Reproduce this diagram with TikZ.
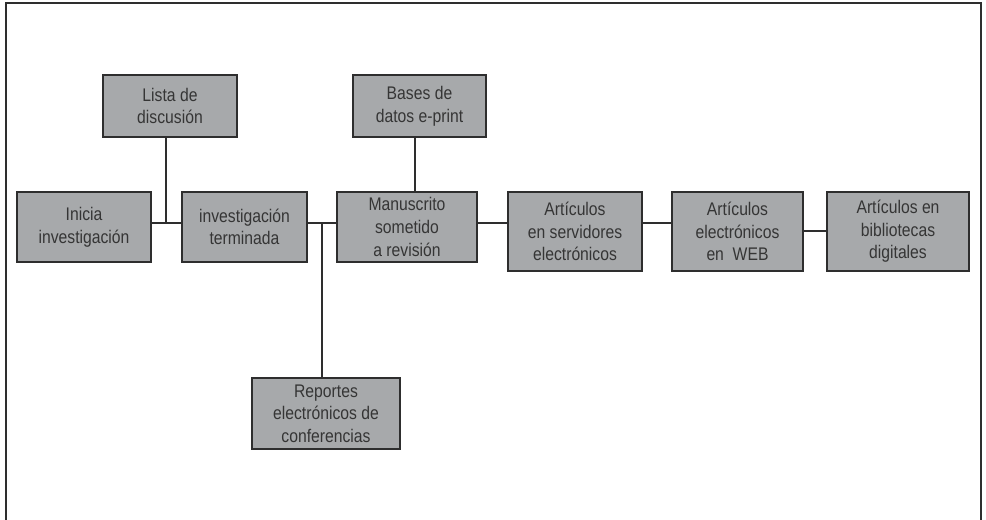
\documentclass[tikz,border=0pt]{standalone}
\usepackage{fontspec}
\setmainfont{Liberation Sans}[FakeStretch=0.86]
\definecolor{cajagris}{HTML}{A7A9AB}
\definecolor{bordegris}{HTML}{2E2E2E}
\definecolor{textogris}{HTML}{353535}
\tikzset{
  caja/.style={draw=bordegris,fill=cajagris,line width=0.7pt,align=center,inner sep=0pt,
    text=textogris,font=\fontsize{10.4}{12.9}\selectfont},
  linea/.style={draw=bordegris,line width=0.7pt}
}
\begin{document}
\begin{tikzpicture}[x=0.02cm,y=-0.02cm]
  \useasboundingbox (0,0) rectangle (986,520);
  \draw[bordegris,line width=0.9pt] (6,530) -- (6,3) -- (981,3) -- (981,530);
  % fila principal
  \node[caja,minimum width=2.68cm,minimum height=1.40cm] (inicia) at (84,227) {Inicia\\investigación};
  \node[caja,minimum width=2.50cm,minimum height=1.40cm] (terminada) at (244.5,227) {investigación\\terminada};
  \node[caja,minimum width=2.80cm,minimum height=1.40cm] (manuscrito) at (407,227) {Manuscrito\\sometido\\a revisión};
  \node[caja,minimum width=2.68cm,minimum height=1.58cm] (servidores) at (575,231.5) {Artículos\\en servidores\\electrónicos};
  \node[caja,minimum width=2.62cm,minimum height=1.58cm] (web) at (737.5,231.5) {Artículos\\electrónicos\\en\ \ WEB};
  \node[caja,minimum width=2.84cm,minimum height=1.58cm] (bibliotecas) at (898,231.5) {Artículos en\\bibliotecas\\digitales};
  % ramas
  \node[caja,minimum width=2.68cm,minimum height=1.24cm] (lista) at (170,106) {Lista de\\discusión};
  \node[caja,minimum width=2.66cm,minimum height=1.24cm] (bases) at (419.5,106) {Bases de\\datos e-print};
  \node[caja,minimum width=2.96cm,minimum height=1.42cm] (reportes) at (326,413.5) {Reportes\\electrónicos de\\conferencias};
  \coordinate (j1) at (166,223);
  \coordinate (j2) at (322,223);
  \coordinate (j3) at (415,223);
  \coordinate (j4) at (0,231);
  % conectores
  \draw[linea] (inicia.east |- j1) -- (terminada.west |- j1);
  \draw[linea] (lista.south -| j1) -- (j1);
  \draw[linea] (terminada.east |- j2) -- (manuscrito.west |- j2);
  \draw[linea] (j2) -- (reportes.north -| j2);
  \draw[linea] (bases.south -| j3) -- (manuscrito.north -| j3);
  \draw[linea] (manuscrito.east |- j1) -- (servidores.west |- j1);
  \draw[linea] (servidores.east |- j1) -- (web.west |- j1);
  \draw[linea] (web.east |- j4) -- (bibliotecas.west |- j4);
\end{tikzpicture}
\end{document}
